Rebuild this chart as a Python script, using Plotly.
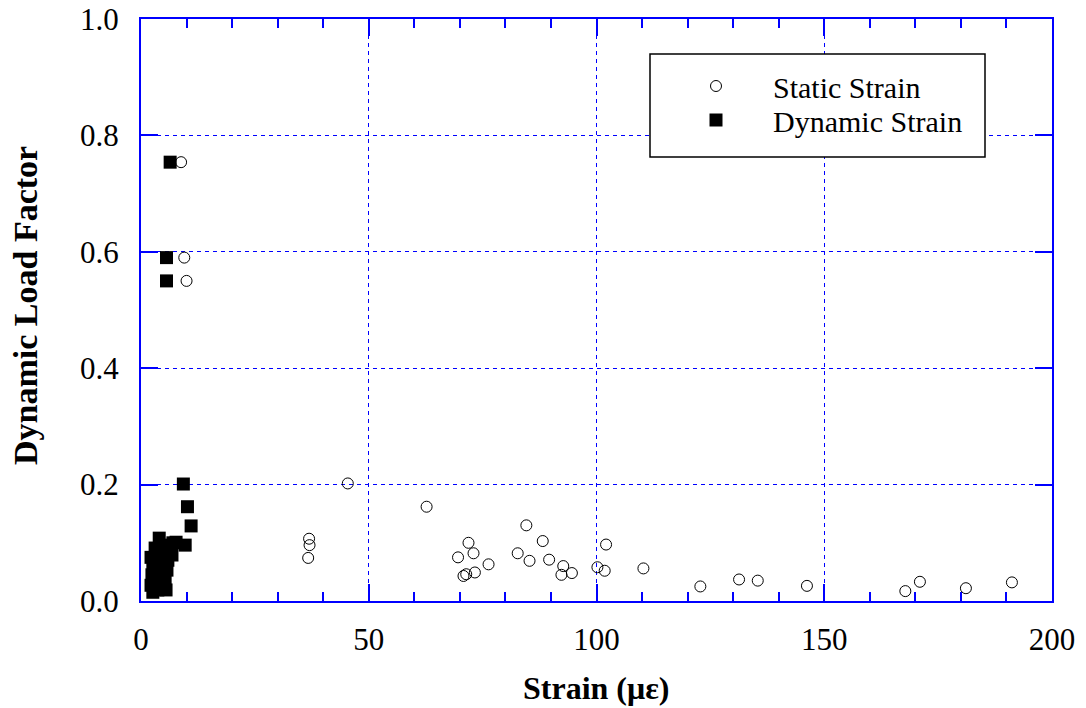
import plotly.graph_objects as go

# Static strain (open circles)
stat_x = [8.8, 9.5, 10.0, 45.4, 36.9, 37.0, 36.7, 62.7, 71.9, 69.6, 73.0, 73.3, 71.4, 70.8,
          76.3, 82.7, 84.6, 85.3, 88.2, 89.6, 92.7, 92.3, 94.6, 100.2, 101.8, 102.1, 110.3,
          122.8, 131.3, 135.4, 146.2, 167.8, 171.0, 181.1, 191.2]
stat_y = [0.754, 0.590, 0.550, 0.202, 0.107, 0.096, 0.074, 0.162, 0.100, 0.075, 0.082, 0.049,
          0.046, 0.043, 0.063, 0.082, 0.130, 0.069, 0.103, 0.071, 0.060, 0.045, 0.048, 0.058,
          0.052, 0.097, 0.056, 0.025, 0.037, 0.035, 0.026, 0.017, 0.033, 0.022, 0.032]

# Dynamic strain (filled squares)
dyn_x = [6.4, 5.6, 5.6, 9.3, 10.2, 11.0, 4.0, 7.0, 9.7, 2.2, 3.1, 2.6, 2.4, 2.2, 2.6, 3.7,
         4.2, 4.6, 4.2, 5.0, 5.7, 6.4, 7.7, 5.9, 5.7, 5.3, 4.6, 3.5, 6.8, 5.5, 3.0, 3.3]
dyn_y = [0.754, 0.590, 0.550, 0.201, 0.162, 0.129, 0.108, 0.100, 0.096, 0.075, 0.091, 0.062,
         0.045, 0.027, 0.015, 0.019, 0.036, 0.053, 0.070, 0.088, 0.096, 0.088, 0.101, 0.070,
         0.053, 0.036, 0.022, 0.045, 0.079, 0.019, 0.030, 0.080]

x_ticks = [0, 50, 100, 150, 200]
y_ticks = [0.0, 0.2, 0.4, 0.6, 0.8, 1.0]
y_labels = ["0.0", "0.2", "0.4", "0.6", "0.8", "1.0"]

FONT = "Liberation Serif, Times New Roman, serif"
BLUE = "#0000ff"

# plot area in pixels
L, R, T, B = 141, 1052, 19, 601
W, H = R - L, B - T

def px_x(p):
    return (p - L) / W

def px_y(p):
    return (B - p) / H

fig = go.Figure()
fig.add_trace(go.Scatter(
    x=stat_x, y=stat_y, mode="markers", name="Static Strain", legend="legend",
    marker=dict(symbol="circle-open", size=11, color="black", line=dict(color="black", width=1)),
))
fig.add_trace(go.Scatter(
    x=dyn_x, y=dyn_y, mode="markers", name="Dynamic Strain", legend="legend2",
    marker=dict(symbol="square", size=13, color="black", line=dict(width=0)),
))

axis_common = dict(
    showline=True, linecolor=BLUE, linewidth=2, mirror="allticks",
    ticks="inside", ticklen=17, tickcolor=BLUE, tickwidth=1.5,
    showgrid=True, gridcolor=BLUE, gridwidth=1, griddash="4px,4px",
    zeroline=False, automargin=False,
    tickfont=dict(family=FONT, size=31, color="black"),
)

fig.update_xaxes(
    range=[0, 200], tickvals=x_ticks, ticktext=[str(v) for v in x_ticks],
    minor=dict(dtick=10, ticks="inside", ticklen=9, tickcolor=BLUE, tickwidth=1.5, showgrid=False),
    ticklabelstandoff=10,
    **axis_common,
)
fig.update_yaxes(
    range=[0, 1.0], tickvals=y_ticks, ticktext=y_labels,
    ticklabelstandoff=14,
    **axis_common,
)

# axis titles
fig.add_annotation(text="<b>Strain (με)</b>", xref="paper", yref="paper",
                   x=px_x(596), y=px_y(688), xanchor="center", yanchor="middle",
                   showarrow=False, font=dict(family=FONT, size=32, color="black"))
fig.add_annotation(text="<b>Dynamic Load Factor</b>", xref="paper", yref="paper",
                   x=px_x(25), y=px_y(306), xanchor="center", yanchor="middle",
                   textangle=-90, showarrow=False, font=dict(family=FONT, size=34, color="black"))

# legend box
fig.add_shape(type="rect", xref="paper", yref="paper",
              x0=px_x(650), x1=px_x(985), y0=px_y(157), y1=px_y(54),
              line=dict(color="black", width=1.5), fillcolor="white", layer="above")

leg_common = dict(
    xanchor="left", yanchor="middle",
    font=dict(family=FONT, size=30, color="black"),
    bgcolor="rgba(0,0,0,0)", borderwidth=0, itemwidth=104, tracegroupgap=0,
)

fig.update_layout(
    width=1086, height=708,
    margin=dict(l=L, r=1086 - R, t=T, b=708 - B),
    paper_bgcolor="white", plot_bgcolor="white",
    showlegend=True,
    legend=dict(x=px_x(659), y=px_y(86), **leg_common),
    legend2=dict(x=px_x(659), y=px_y(120), **leg_common),
    font=dict(family=FONT, color="black"),
)

fig.write_html(
    "out.html",
    config={"displayModeBar": False},
    post_script="document.body.style.margin='0';document.body.style.overflow='hidden';",
)
